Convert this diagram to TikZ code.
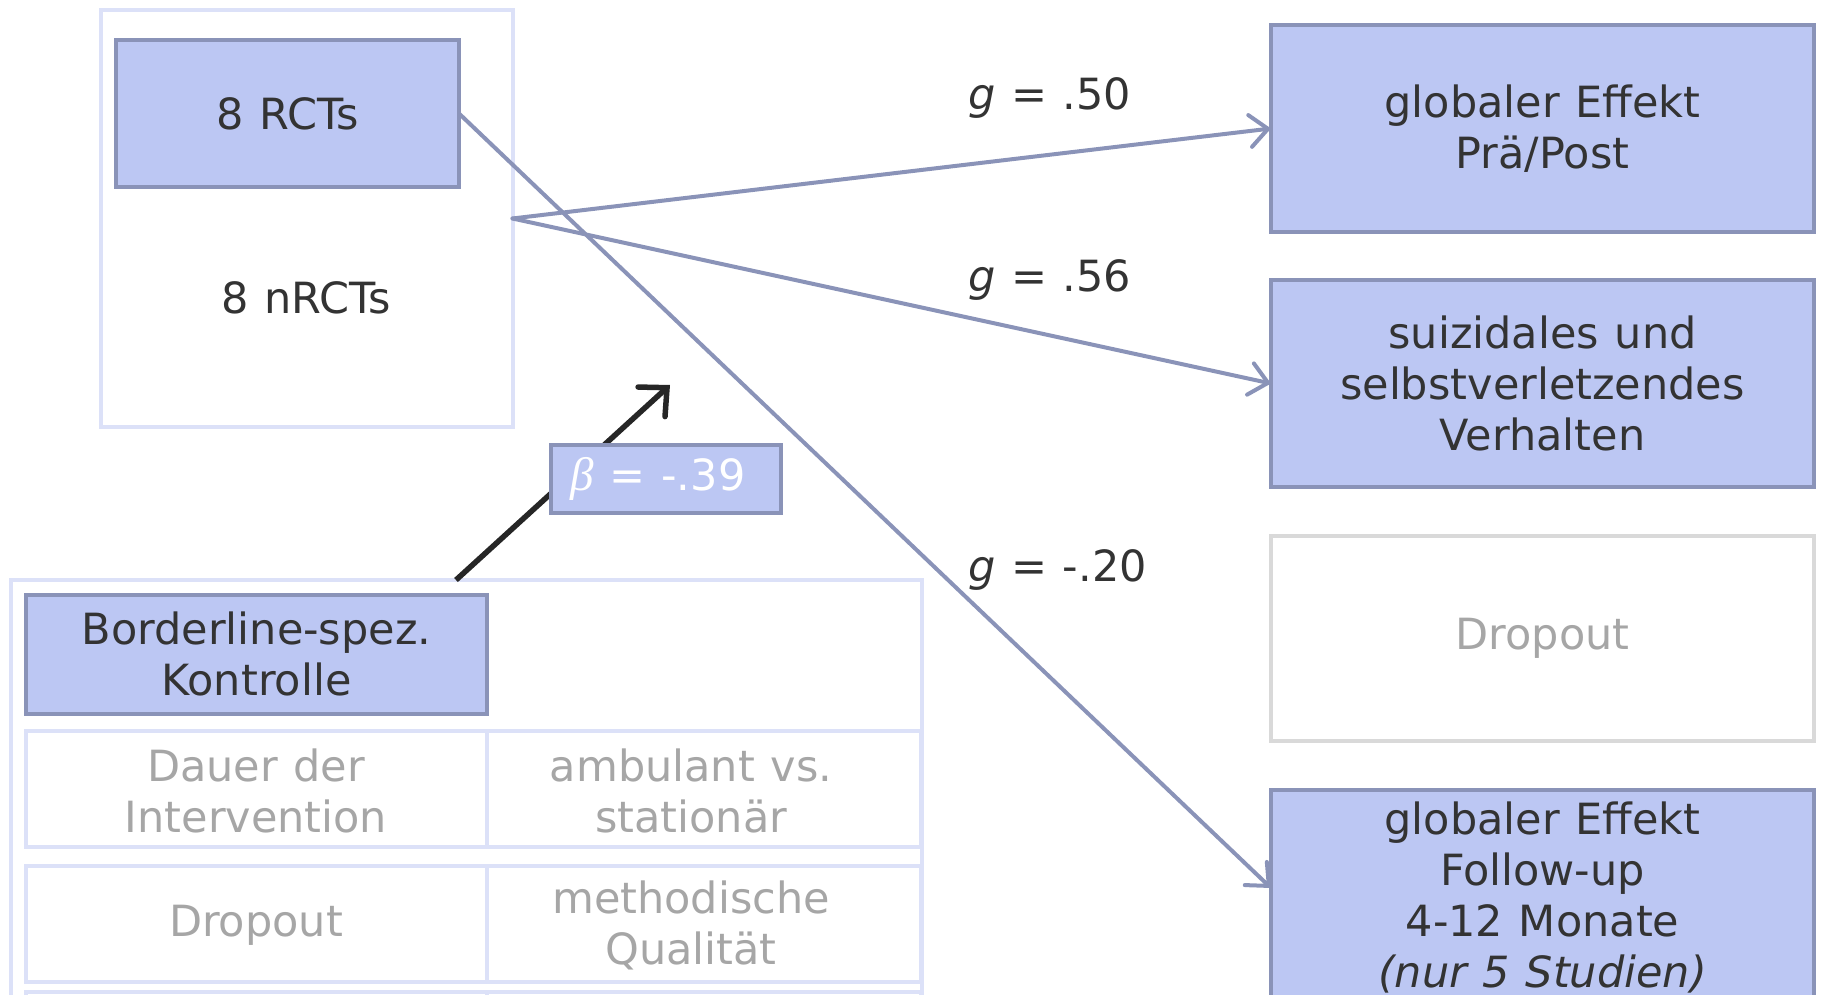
\documentclass[tikz,border=0pt]{standalone}
\usepackage{fontspec}
\setmainfont{DejaVu Sans}[WordSpace=1.15]
\newfontfamily\betafont{Liberation Serif}
\usetikzlibrary{arrows.meta,calc}
\definecolor{fillc}{HTML}{BCC7F3}
\definecolor{bdr}{HTML}{8A93B8}
\definecolor{lightb}{HTML}{DCE1F8}
\definecolor{grayb}{HTML}{D9D9D9}
\definecolor{graytxt}{HTML}{A6A6A6}
\definecolor{txt}{HTML}{333333}
\definecolor{blk}{HTML}{262626}
\begin{document}
\begin{tikzpicture}[x=1pt,y=-1pt,
  font=\fontsize{43}{51}\selectfont,
  box/.style={rectangle, inner sep=0pt, outer sep=0pt, align=center, line width=4pt},
  darkbox/.style={box, draw=bdr, fill=fillc, text=txt},
  lightbox/.style={box, draw=lightb, fill=white},
  graybox/.style={box, draw=grayb, fill=white, text=graytxt},
  celltext/.style={text=graytxt, align=center, inner sep=0pt},
  plaintext/.style={text=txt, align=center, inner sep=0pt},
  conn/.style={draw=bdr, line width=4pt, line cap=round, -{Straight Barb[length=18pt,width=32pt,line cap=round]}},
  blackarrow/.style={draw=blk, line width=5.5pt, -{Straight Barb[length=21pt,width=40pt,line cap=round]}}]
\useasboundingbox (0,0) rectangle (1824,995);
\clip (0,0) rectangle (1824,995);

% top-left group
\node[lightbox, minimum width=412pt, minimum height=416pt] (outer) at (306.5,218.5) {};
\node[darkbox, minimum width=343pt, minimum height=147pt] (rct) at (287.5,113.5) {8 RCTs};
\node[plaintext] (nrct) at (306,298) {8 nRCTs};

% bottom-left table
\node[lightbox, minimum width=911pt, minimum height=520pt] (tbl) at (466.5,840) {};
\node[darkbox, minimum width=461pt, minimum height=119pt] (bl) at (256.5,654) {Borderline-spez.\\Kontrolle};
\node[lightbox, minimum width=461pt, minimum height=116pt] (c11) at (256.5,789) {};
\node[lightbox, minimum width=434pt, minimum height=116pt] (c12) at (704,789) {};
\node[lightbox, minimum width=461pt, minimum height=116pt] (c21) at (256.5,924) {};
\node[lightbox, minimum width=434pt, minimum height=116pt] (c22) at (704,924) {};
\node[lightbox, minimum width=461pt, minimum height=116pt] (c31) at (256.5,1050) {};
\node[lightbox, minimum width=434pt, minimum height=116pt] (c32) at (704,1050) {};
\node[celltext] (t11) at (256,791) {Dauer der\\Intervention};
\node[celltext] (t12) at (691,791) {ambulant vs.\\station\"ar};
\node[celltext] (t21) at (256,925) {Dropout};
\node[celltext] (t22) at (691,925) {methodische\\Qualit\"at};

% moderator arrow and beta box
\coordinate (btip) at (670,385);
\draw[blackarrow] ($(tbl.north west)+(445,0)$) -- (btip);
\node[darkbox, minimum width=230pt, minimum height=68pt, text=white] (beta) at (666,479)
  {{\betafont\itshape\fontsize{47}{51}\selectfont β} = -.39\hspace*{16pt}};

% right outcome boxes
\node[darkbox, minimum width=543pt, minimum height=207pt] (b1) at (1542.5,128.5) {globaler Effekt\\Pr\"a/Post};
\node[darkbox, minimum width=543pt, minimum height=207pt] (b2) at (1542.5,383.5) {suizidales und\\selbstverletzendes\\Verhalten};
\node[graybox, minimum width=543pt, minimum height=205pt] (dr) at (1542.5,638.5) {Dropout};
\node[darkbox, minimum width=543pt, minimum height=214pt] (fu) at (1542.5,897) {globaler Effekt\\Follow-up\\4-12 Monate\\{\itshape(nur 5 Studien)}};

% connectors
\draw[conn] (outer.east) -- (b1.west);
\draw[conn] (outer.east) -- (b2.west);
\draw[conn] (rct.east) -- ($(fu.north west)+(0,98)$);

% effect labels
\node[plaintext, anchor=west] (g1) at (968,98) {{\itshape g} = .50};
\node[plaintext, anchor=west] (g2) at (968,280) {{\itshape g} = .56};
\node[plaintext, anchor=west] (g3) at (968,570) {{\itshape g} = -.20};
\end{tikzpicture}
\end{document}
